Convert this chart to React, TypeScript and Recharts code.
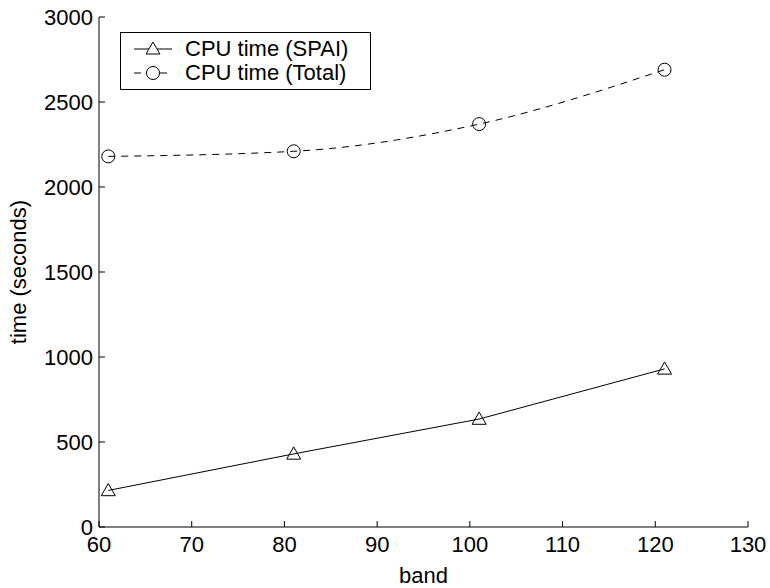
import { LineChart, Line, XAxis, YAxis } from 'recharts';

// bandwidth values on the x axis
const bands = [61, 81, 101, 121];
const spaiTime = [215, 430, 635, 930];
const totalTime = [2180, 2210, 2370, 2690];
const seriesNames = ['CPU time (SPAI)', 'CPU time (Total)'];

const xTicks = [60, 70, 80, 90, 100, 110, 120, 130];
const yTicks = [0, 500, 1000, 1500, 2000, 2500, 3000];

const data = bands.map((b, i) => ({ band: b, spai: spaiTime[i], total: totalTime[i] }));

const FONT = '"Liberation Sans", Arial, Helvetica, sans-serif';
const FS = 22;
const TICK = 6;
const X_MARGIN = 9;

function LeftTick({ x, y, payload }: any) {
  const ax = x + 6;
  return (
    <g>
      <line x1={ax} y1={y} x2={ax + TICK} y2={y} stroke="#000" />
      <text x={x} y={y} dy="0.36em" textAnchor="end" fontSize={FS} fontFamily={FONT} fill="#000">
        {payload.value}
      </text>
    </g>
  );
}

function BottomTick({ x, y, payload }: any) {
  const ay = y - X_MARGIN;
  return (
    <g>
      <line x1={x} y1={ay} x2={x} y2={ay - TICK} stroke="#000" />
      <text x={x} y={y} dy="0.72em" textAnchor="middle" fontSize={FS} fontFamily={FONT} fill="#000">
        {payload.value}
      </text>
    </g>
  );
}

function TopTick({ x, y }: any) {
  return <line x1={x} y1={y} x2={x} y2={y + TICK} stroke="#000" />;
}

function RightTick({ x, y }: any) {
  return <line x1={x} y1={y} x2={x - TICK} y2={y} stroke="#000" />;
}

function Triangle({ cx, cy }: any) {
  if (cx == null || cy == null) return null;
  const h = 7;
  return (
    <path
      d={`M${cx},${cy - h} L${cx + h},${cy + h * 0.75} L${cx - h},${cy + h * 0.75} Z`}
      fill="none"
      stroke="#000"
      strokeWidth={1}
    />
  );
}

function Ring({ cx, cy }: any) {
  if (cx == null || cy == null) return null;
  return <circle cx={cx} cy={cy} r={6.5} fill="none" stroke="#000" strokeWidth={1} />;
}

function LegendBox() {
  return (
    <div
      style={{
        position: 'absolute',
        left: 120,
        top: 32,
        width: 251,
        height: 58,
        border: '1px solid #000',
        background: '#fff',
        fontFamily: FONT,
        fontSize: FS,
        boxSizing: 'border-box',
      }}
    >
      {seriesNames.map((name, i) => (
        <div key={name} style={{ position: 'absolute', left: 12, top: 4 + i * 24, height: 24, display: 'flex', alignItems: 'center' }}>
          <svg width={40} height={20} style={{ marginRight: 12 }}>
            <line x1={1} y1={10} x2={39} y2={10} stroke="#000" strokeDasharray={i === 1 ? '7 6' : undefined} />
            {i === 0 ? (
              <path d="M20,3 L27,15 L13,15 Z" fill="#fff" stroke="#000" />
            ) : (
              <circle cx={20} cy={10} r={6.5} fill="#fff" stroke="#000" />
            )}
          </svg>
          <span>{name}</span>
        </div>
      ))}
    </div>
  );
}

export default function App() {
  return (
    <div style={{ position: 'absolute', left: 0, top: 0, width: 770, height: 588, background: '#fff' }}>
      <LineChart width={770} height={588} data={data} margin={{ top: 17, right: 22, bottom: 0, left: 0 }}>
        <XAxis
          dataKey="band"
          type="number"
          domain={[60, 130]}
          ticks={xTicks}
          height={61}
          tickSize={0}
          tickMargin={X_MARGIN}
          tickLine={false}
          axisLine={{ stroke: '#000' }}
          tick={<BottomTick />}
          interval={0}
          label={{ value: 'band', position: 'insideBottom', offset: 5, fontSize: FS, fontFamily: FONT, fill: '#000' }}
        />
        <XAxis
          xAxisId="top"
          orientation="top"
          dataKey="band"
          type="number"
          domain={[60, 130]}
          ticks={xTicks}
          height={0}
          tickSize={0}
          tickMargin={0}
          tickLine={false}
          axisLine={{ stroke: '#000' }}
          tick={<TopTick />}
          interval={0}
        />
        <YAxis
          domain={[0, 3000]}
          ticks={yTicks}
          width={99}
          tickSize={0}
          tickMargin={6}
          tickLine={false}
          axisLine={{ stroke: '#000' }}
          tick={<LeftTick />}
          interval={0}
          label={{ value: 'time (seconds)', angle: -90, position: 'insideLeft', offset: 18, fontSize: FS, fontFamily: FONT, fill: '#000', style: { textAnchor: 'middle' } }}
        />
        <YAxis
          yAxisId="right"
          orientation="right"
          domain={[0, 3000]}
          ticks={yTicks}
          width={0}
          tickSize={0}
          tickMargin={0}
          tickLine={false}
          axisLine={{ stroke: '#000' }}
          tick={<RightTick />}
          interval={0}
        />
        <Line
          type="linear"
          dataKey="spai"
          stroke="#000"
          strokeWidth={1}
          dot={<Triangle />}
          activeDot={false}
          isAnimationActive={false}
        />
        <Line
          type="monotone"
          dataKey="total"
          stroke="#000"
          strokeWidth={1}
          strokeDasharray="7 6"
          dot={<Ring />}
          activeDot={false}
          isAnimationActive={false}
        />
      </LineChart>
      <LegendBox />
    </div>
  );
}
